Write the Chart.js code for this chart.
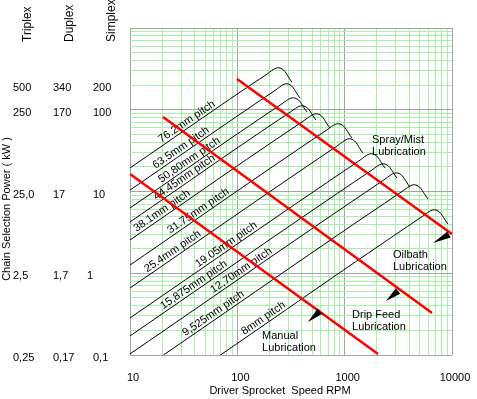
<!DOCTYPE html>
<html>
<head>
<meta charset="utf-8">
<script src="https://cdn.jsdelivr.net/npm/chart.js@4.4.1/dist/chart.umd.min.js"></script>
<style>
  html, body { margin: 0; padding: 0; background: #fff; }
  #wrap { width: 477px; height: 399px; }
</style>
</head>
<body>
<div id="wrap"><canvas id="chart" width="477" height="399"></canvas></div>
<script>
// axis ranges and tick labels
const rpmRange = [10, 10000];
const kwRange = [0.1, 1000];
const rpmTicks = [10, 100, 1000, 10000];
const rpmTickLabels = ['10', '100', '1000', '10000'];
const xTitle = 'Driver Sprocket  Speed RPM';
const yTitle = 'Chain Selection Power ( kW )';

// power scale on the left, rows placed at the simplex value
const powerRows = [200, 100, 10, 1, 0.1];
const triplexLabels = ['500', '250', '25,0', '2,5', '0,25'];
const duplexLabels = ['340', '170', '17', '1,7', '0,17'];
const simplexLabels = ['200', '100', '10', '1', '0,1'];
const strandNames = ['Triplex', 'Duplex', 'Simplex'];

// rating curve per chain pitch: start, knee, peak, end  (rpm / simplex kW)
const pitchNames = ['76.2mm pitch', '63.5mm pitch', '50,80mm pitch', '44.45mm pitch', '38.1mm pitch',
  '31.75mm pitch', '25.4mm pitch', '19.05mm pitch', '15,875mm pitch', '12,70mm pitch', '9,525mm pitch', '8mm pitch'];
const pitchRpm = [
  [10, 185, 250, 323],
  [10, 220, 297, 384],
  [10, 255, 345, 446],
  [10, 310, 418, 541],
  [10, 418, 565, 730],
  [10, 670, 905, 1171],
  [10, 848, 1146, 1482],
  [10, 1360, 1837, 2376],
  [10, 1760, 2376, 3073],
  [10, 2325, 3141, 4062],
  [20.5, 3421, 4620, 5976],
  [69.6, 5254, 7096, 9179]
];
const pitchKw = [
  [19.4, 268, 324, 218],
  [10.4, 169, 207, 139],
  [6.28, 116, 139, 93.9],
  [4.24, 93.3, 111, 74.9],
  [2.55, 73.7, 88.7, 59.8],
  [1.26, 55.7, 66.9, 45.1],
  [0.66, 36.0, 43.9, 29.6],
  [0.284, 23.7, 28.8, 19.4],
  [0.171, 18.0, 21.7, 14.6],
  [0.103, 13.9, 16.8, 11.35],
  [0.1, 10.0, 12.0, 8.1],
  [0.1, 4.92, 5.94, 4.0]
];
// rpm where each pitch name starts along its line
const pitchLabelRpm = [20.3, 17.9, 20.3, 18.2, 11.9, 24.6, 15.0, 44.9, 21.2, 61.9, 34.0, 120];

// lubrication boundaries (red)
const lubeRpm = [[10, 2045], [20.3, 6513], [99.3, 10000]];
const lubeKw = [[16.4, 0.103], [81.5, 0.327], [238, 3.02]];
const arrowTip = [[455, 0.254], [2427, 0.458], [6653, 2.34]];
const arrowBase = [[589, 0.345], [3141, 0.607], [9376, 2.98]];
const lubeNames = [['Manual', 'Lubrication'], ['Drip Feed', 'Lubrication'], ['Oilbath', 'Lubrication'], ['Spray/Mist', 'Lubrication']];
const lubeNameAt = [[170, 0.171], [1171, 0.309], [2820, 1.67], [1798, 42.7]];

const FONT = '11px "Liberation Sans", Arial, sans-serif';
Chart.defaults.font.family = '"Liberation Sans", Arial, sans-serif';
Chart.defaults.font.size = 11;
Chart.defaults.color = '#000';

// 1..9 per decade for the grid
const logGrid = ([lo, hi]) => {
  const out = [];
  for (let e = Math.round(Math.log10(lo)); e < Math.round(Math.log10(hi)); e++) {
    for (let m = 1; m <= 9; m++) out.push(m * Math.pow(10, e));
  }
  out.push(hi);
  return out;
};
const isDecade = v => Math.abs(Math.log10(v) - Math.round(Math.log10(v))) < 1e-6;
const gridColor = c => (c.tick && isDecade(c.tick.value)) ? '#a3a3a3' : '#a8f0a8';

const datasets = [];
lubeRpm.forEach((r, i) => {
  datasets.push({
    data: r.map((x, j) => ({ x: x, y: lubeKw[i][j] })),
    showLine: true, borderColor: '#ff0000', borderWidth: 2.5, pointRadius: 0, tension: 0
  });
});
pitchRpm.forEach((r, i) => {
  datasets.push({
    data: r.map((x, j) => ({ x: x, y: pitchKw[i][j] })),
    showLine: true, borderColor: '#000', borderWidth: 1, pointRadius: 0, tension: 0.4
  });
});

const overlay = {
  id: 'overlay',
  beforeDatasetsDraw(chart) {
    const { ctx } = chart;
    const xs = chart.scales.x;
    ctx.save();
    ctx.font = FONT;
    ctx.fillStyle = '#000';
    ctx.textAlign = 'left';
    ctx.textBaseline = 'alphabetic';
    pitchNames.forEach((name, i) => {
      const pts = chart.getDatasetMeta(i + lubeRpm.length).data;
      const s = pts[0], k = pts[1];
      const px = xs.getPixelForValue(pitchLabelRpm[i]);
      const py = s.y + (px - s.x) / (k.x - s.x) * (k.y - s.y);
      ctx.save();
      ctx.translate(px, py);
      ctx.rotate(Math.atan2(k.y - s.y, k.x - s.x));
      ctx.fillText(name, 0, -3);
      ctx.restore();
    });
    ctx.restore();
  },
  afterDatasetsDraw(chart) {
    const { ctx } = chart;
    const xs = chart.scales.x, ys = chart.scales.y;
    ctx.save();
    ctx.fillStyle = '#000';
    arrowTip.forEach((tp, i) => {
      const tx = xs.getPixelForValue(tp[0]), ty = ys.getPixelForValue(tp[1]);
      const bx = xs.getPixelForValue(arrowBase[i][0]), by = ys.getPixelForValue(arrowBase[i][1]);
      const len = Math.hypot(bx - tx, by - ty);
      const nx = -(by - ty) / len * 3.5, ny = (bx - tx) / len * 3.5;
      ctx.beginPath();
      ctx.moveTo(tx, ty);
      ctx.lineTo(bx + nx, by + ny);
      ctx.lineTo(bx - nx, by - ny);
      ctx.closePath();
      ctx.fill();
    });
    ctx.font = FONT;
    ctx.textAlign = 'left';
    ctx.textBaseline = 'middle';
    lubeNames.forEach((lines, i) => {
      const px = xs.getPixelForValue(lubeNameAt[i][0]);
      const py = ys.getPixelForValue(lubeNameAt[i][1]);
      lines.forEach((t, j) => ctx.fillText(t, px, py + j * 12));
    });
    ctx.restore();
  },
  afterDraw(chart) {
    const { ctx } = chart;
    const ys = chart.scales.y;
    ctx.save();
    ctx.fillStyle = '#000';
    ctx.font = FONT;
    ctx.textAlign = 'left';
    ctx.textBaseline = 'middle';
    const simpX = [93, 93, 93, 87, 93];
    powerRows.forEach((v, r) => {
      const y = ys.getPixelForValue(v) + 3;
      ctx.fillText(triplexLabels[r], 13, y);
      ctx.fillText(duplexLabels[r], 53, y);
      ctx.fillText(simplexLabels[r], simpX[r], y);
    });
    ctx.font = '12px "Liberation Sans", Arial, sans-serif';
    [28, 70, 112].forEach((cx, i) => {
      ctx.save();
      ctx.translate(cx, 42);
      ctx.rotate(-Math.PI / 2);
      ctx.fillText(strandNames[i], 0, 0);
      ctx.restore();
    });
    ctx.font = FONT;
    ctx.textAlign = 'center';
    ctx.fillText(xTitle, 280, 391);
    ctx.translate(7, 209);
    ctx.rotate(-Math.PI / 2);
    ctx.fillText(yTitle, 0, 0);
    ctx.restore();
  }
};

new Chart(document.getElementById('chart'), {
  type: 'scatter',
  data: { datasets: datasets },
  plugins: [overlay],
  options: {
    responsive: false,
    animation: false,
    layout: { padding: { left: 0, top: 28, right: 25, bottom: 0 } },
    plugins: { legend: { display: false }, tooltip: { enabled: false } },
    scales: {
      x: {
        type: 'logarithmic',
        min: rpmRange[0],
        max: rpmRange[1],
        afterBuildTicks: s => { s.ticks = logGrid(rpmRange).map(v => ({ value: v })); },
        afterFit: s => { s.height = 44; s.paddingLeft = 0; s.paddingRight = 0; },
        grid: { color: gridColor, drawTicks: false },
        border: { display: false },
        ticks: {
          autoSkip: false,
          maxRotation: 0,
          padding: 16,
          labelOffset: 3,
          callback: v => {
            const i = rpmTicks.findIndex(t => Math.abs(t - v) < 1e-6);
            return i < 0 ? '' : rpmTickLabels[i];
          }
        },
        title: { display: false }
      },
      y: {
        type: 'logarithmic',
        min: kwRange[0],
        max: kwRange[1],
        afterBuildTicks: s => { s.ticks = logGrid(kwRange).map(v => ({ value: v })); },
        afterFit: s => { s.width = 130; s.paddingTop = 0; s.paddingBottom = 0; },
        grid: { color: gridColor, drawTicks: false },
        border: { display: false },
        ticks: { display: false }
      }
    }
  }
});
</script>
</body>
</html>
